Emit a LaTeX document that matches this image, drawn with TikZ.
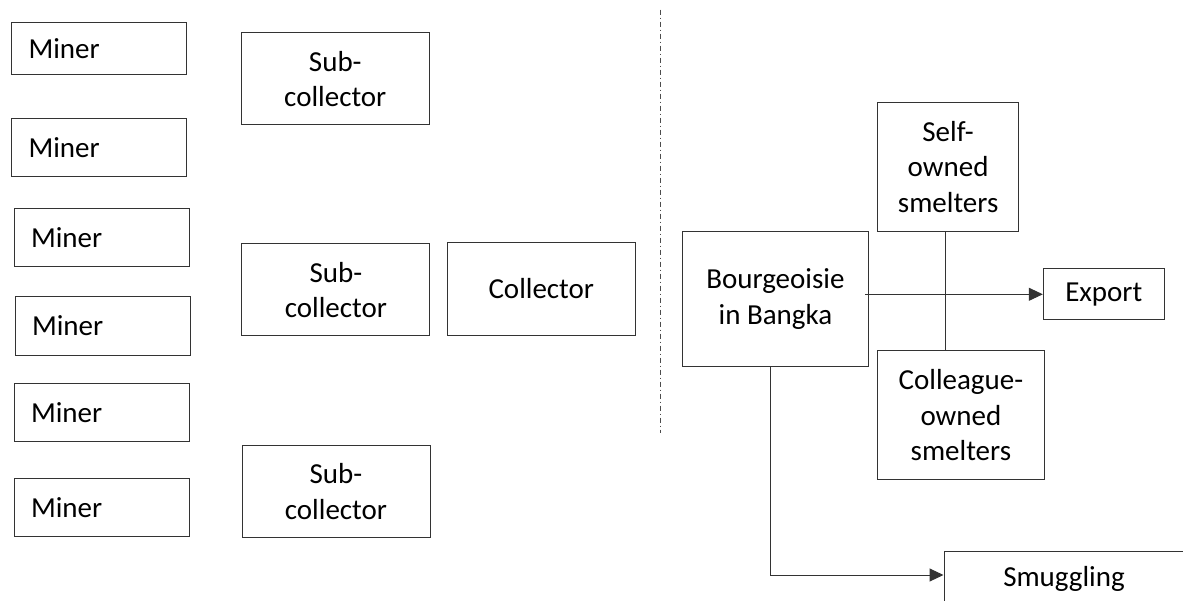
\documentclass[tikz,border=0pt]{standalone}
\usepackage{fontspec}
\setmainfont{Carlito}
\usetikzlibrary{arrows.meta}
\begin{document}
\begin{tikzpicture}[x=1pt,y=-1pt,
  every node/.style={font=\fontsize{29}{35.5}\selectfont, text=black},
  boxstyle/.style={draw=black!80, line width=1pt, inner sep=0pt, align=center},
  minerbox/.style={draw=black!80, line width=1pt, inner ysep=0pt, inner xsep=17pt, align=left, text width=141pt, minimum width=175pt},
  conn/.style={draw=black!80, line width=1pt},
  arr/.style={conn, -{Triangle[length=14pt,width=13pt]}},
  divider/.style={draw=black!70, line width=0.8pt, dash pattern=on 5pt off 3pt on 1pt off 3pt}
]
\useasboundingbox (0,0) rectangle (1183,601);
\fill[white] (0,0) rectangle (1183,601);

% Miners
\node[minerbox, minimum height=52pt]   (m1) at (99,48.6)    {\raisebox{-2pt}{Miner}};
\node[minerbox, minimum height=58pt]   (m2) at (99,148)     {Miner};
\node[minerbox, minimum height=57.4pt] (m3) at (101.5,237.7) {Miner};
\node[minerbox, minimum height=58.6pt] (m4) at (102.5,326)  {Miner};
\node[minerbox, minimum height=58.5pt] (m5) at (101.5,412.3) {Miner};
\node[minerbox, minimum height=58pt]   (m6) at (101.5,507.6) {Miner};

% Sub-collectors and collector
\node[boxstyle, minimum width=188.5pt, minimum height=92.4pt] (sc1) at (335.3,78.8) {Sub-\\collector};
\node[boxstyle, minimum width=188pt, minimum height=92pt] (sc2) at (335.9,290) {Sub-\\collector};
\node[boxstyle, minimum width=188pt, minimum height=92.3pt] (sc3) at (336,491.5) {Sub-\\collector};
\node[boxstyle, minimum width=188.6pt, minimum height=92.8pt] (col) at (541.3,289) {Collector};

% Divider
\coordinate (dt) at (660.2,9.6);
\coordinate (db) at (660.2,433);
\draw[divider] (dt) -- (db);

% Right side
\node[boxstyle, minimum width=141.4pt, minimum height=128.4pt] (self) at (948.1,166.9) {Self-\\owned\\smelters};
\node[boxstyle, minimum width=185.6pt, minimum height=135.7pt] (bourg) at (775.4,299) {Bourgeoisie\\in Bangka};
\node[boxstyle, minimum width=121pt, minimum height=51.3pt] (export) at (1103.8,294.3) {Export};
\node[boxstyle, minimum width=166.9pt, minimum height=128.8pt] (coll) at (960.9,415.1) {Colleague-\\owned\\smelters};
\node[boxstyle, minimum width=240pt, minimum height=56pt] (smug) at (1064,579) {Smuggling};

% Connectors
\draw[conn] ([xshift=-3pt]self.south) -- ([xshift=-3pt]self.south |- coll.north);
\draw[arr] ([xshift=-3.5pt]export.west -| bourg.east) -- (export.west);
\draw[arr] ([xshift=-4.7pt]bourg.south) |- ([yshift=4pt]smug.west);
\end{tikzpicture}
\end{document}
